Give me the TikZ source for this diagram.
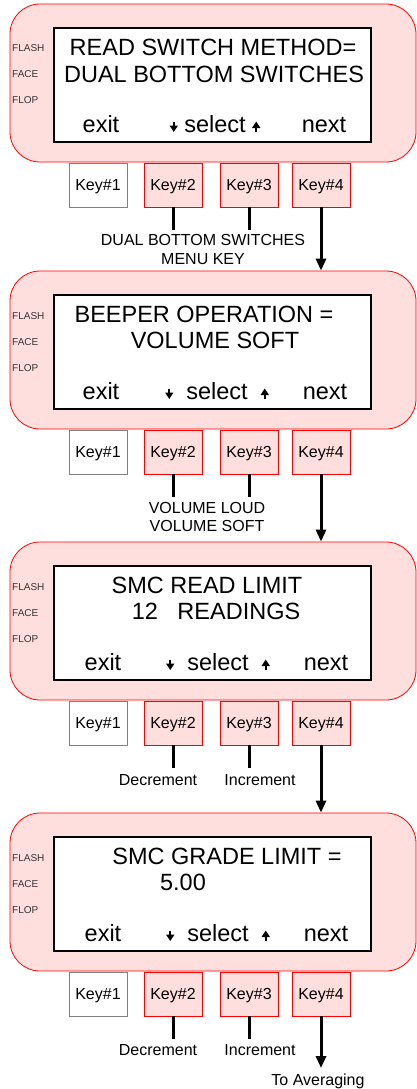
\documentclass[tikz,border=0pt]{standalone}
\usepackage{fontspec}
\setmainfont{Liberation Sans}
\usepackage{xcolor}
\usetikzlibrary{positioning,arrows.meta}
\definecolor{panelpink}{RGB}{255,222,222}

\newcommand{\dnkey}{\tikz[baseline=0pt]\draw[line width=2pt,-{Triangle[length=6.5pt,width=8pt]}] (0pt,10.5pt) -- (0pt,0pt);}
\newcommand{\upkey}{\tikz[baseline=0pt]\draw[line width=2pt,-{Triangle[length=6.5pt,width=8pt]}] (0pt,0pt) -- (0pt,10.5pt);}

\begin{document}
\begin{tikzpicture}[
  x=1pt, y=-1pt,
  panel/.style={draw=red, fill=panelpink, rounded corners=30pt, line width=0.8pt,
                minimum width=406pt, minimum height=158pt},
  screen/.style={draw=black, fill=white, line width=2.6pt,
                 minimum width=317pt, minimum height=114pt},
  lcd/.style={inner sep=0pt, anchor=base, font=\fontsize{23.5}{28}\selectfont},
  tag/.style={inner sep=0pt, anchor=base west, text=black!80,
              font=\fontsize{10}{12}\selectfont},
  key/.style={draw=red, fill=panelpink, line width=0.8pt, inner sep=0pt,
              minimum width=58pt, minimum height=44pt, text depth=0pt,
              font=\fontsize{16}{19}\selectfont},
  keyoff/.style={key, draw=black!50, fill=white},
  note/.style={inner sep=0pt, align=center, font=\fontsize{16}{18.5}\selectfont},
  stub/.style={line width=3pt},
  arr/.style={line width=3pt, -{Triangle[length=12pt,width=10pt]}}
]
  \useasboundingbox (0,0) rectangle (417,1089);

  % read switch method
  \node[panel] (p1) at (213,83) {};
  \node[screen] (s1) at (212.5,85) {};
  \node[tag] (fl1) at (12,52) {FLASH};
  \node[tag] (fa1) at (12,78) {FACE};
  \node[tag] (fo1) at (12,104) {FLOP};
  \node[lcd] (a1) at (213,56) {READ SWITCH METHOD=};
  \node[lcd] (b1) at (214,83) {DUAL BOTTOM SWITCHES};
  \node[lcd] (ex1) at (101,132) {exit};
  \node[lcd] (se1) at (215,132) {\dnkey\ select\ \upkey};
  \node[lcd] (nx1) at (324,132) {next};
  \node[keyoff] (k11) at (98,185) {Key\#1};
  \node[key] (k12) at (173,185) {Key\#2};
  \node[key] (k13) at (249,185) {Key\#3};
  \node[key] (k14) at (321,185) {Key\#4};
  \coordinate (e12) at (173,230);
  \coordinate (e13) at (249,230);
  \draw[stub] (k12) -- (e12);
  \draw[stub] (k13) -- (e13);
  \node[note] (m1) at (203,249.5) {DUAL BOTTOM SWITCHES\\MENU KEY};

  % beeper operation
  \node[panel] (p2) at (213,350) {};
  \node[screen] (s2) at (212.5,352) {};
  \node[tag] (fl2) at (12,319) {FLASH};
  \node[tag] (fa2) at (12,345) {FACE};
  \node[tag] (fo2) at (12,371) {FLOP};
  \node[lcd] (a2) at (204,322) {BEEPER OPERATION =};
  \node[lcd] (b2) at (215,348) {VOLUME SOFT};
  \node[lcd] (ex2) at (101,399) {exit};
  \node[lcd] (se2) at (217,399) {\dnkey\ \ select\ \ \upkey};
  \node[lcd] (nx2) at (325,399) {next};
  \node[keyoff] (k21) at (98,452) {Key\#1};
  \node[key] (k22) at (173,452) {Key\#2};
  \node[key] (k23) at (249,452) {Key\#3};
  \node[key] (k24) at (321,452) {Key\#4};
  \coordinate (e22) at (173,497);
  \coordinate (e23) at (249,497);
  \draw[stub] (k22) -- (e22);
  \draw[stub] (k23) -- (e23);
  \node[note] (m2) at (207,517) {VOLUME LOUD\\VOLUME SOFT};
  \draw[arr] (k14) -- (k14 |- p2.north);

  % smc read limit
  \node[panel] (p3) at (213,621) {};
  \node[screen] (s3) at (212.5,623) {};
  \node[tag] (fl3) at (12,590) {FLASH};
  \node[tag] (fa3) at (12,616) {FACE};
  \node[tag] (fo3) at (12,642) {FLOP};
  \node[lcd] (a3) at (207,593) {SMC READ LIMIT};
  \node[lcd] (b3) at (216,619) {12\ \ \ READINGS};
  \node[lcd] (ex3) at (103,670) {exit};
  \node[lcd] (se3) at (218,670) {\dnkey\ \ select\ \ \upkey};
  \node[lcd] (nx3) at (326,670) {next};
  \node[keyoff] (k31) at (98,723) {Key\#1};
  \node[key] (k32) at (173,723) {Key\#2};
  \node[key] (k33) at (249,723) {Key\#3};
  \node[key] (k34) at (321,723) {Key\#4};
  \coordinate (e32) at (173,768);
  \coordinate (e33) at (249,768);
  \draw[stub] (k32) -- (e32);
  \draw[stub] (k33) -- (e33);
  \node[note] (dec3) at (158,780) {Decrement};
  \node[note] (inc3) at (260,780) {Increment};
  \draw[arr] (k24) -- (k24 |- p3.north);

  % smc grade limit
  \node[panel] (p4) at (213,892) {};
  \node[screen] (s4) at (212.5,894) {};
  \node[tag] (fl4) at (12,861) {FLASH};
  \node[tag] (fa4) at (12,887) {FACE};
  \node[tag] (fo4) at (12,913) {FLOP};
  \node[lcd] (a4) at (227,864) {SMC GRADE LIMIT =};
  \node[lcd] (b4) at (183,890) {5.00};
  \node[lcd] (ex4) at (103,941) {exit};
  \node[lcd] (se4) at (218,941) {\dnkey\ \ select\ \ \upkey};
  \node[lcd] (nx4) at (326,941) {next};
  \node[keyoff] (k41) at (98,994) {Key\#1};
  \node[key] (k42) at (173,994) {Key\#2};
  \node[key] (k43) at (249,994) {Key\#3};
  \node[key] (k44) at (321,994) {Key\#4};
  \coordinate (e42) at (173,1039);
  \coordinate (e43) at (249,1039);
  \draw[stub] (k42) -- (e42);
  \draw[stub] (k43) -- (e43);
  \node[note] (dec4) at (158,1050) {Decrement};
  \node[note] (inc4) at (260,1050) {Increment};
  \draw[arr] (k34) -- (k34 |- p4.north);
  \coordinate (e44) at (321,1068);
  \node[note, anchor=base] (avg) at (318,1085) {To Averaging};
  \draw[arr] (k44) -- (e44);
\end{tikzpicture}
\end{document}
